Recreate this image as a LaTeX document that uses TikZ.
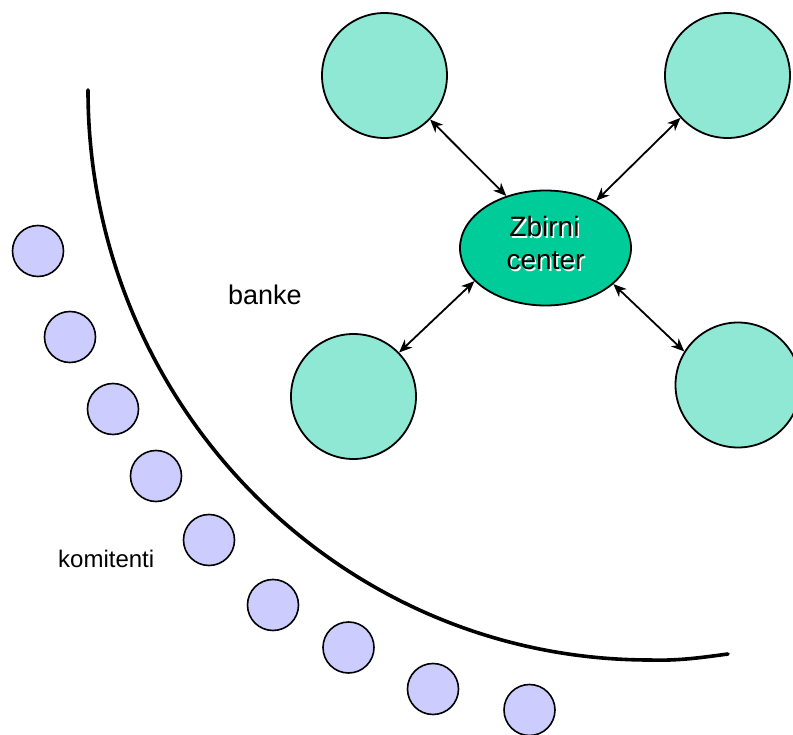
\documentclass[tikz,border=0pt]{standalone}
\usepackage{fontspec}
\setmainfont{Liberation Sans}
\usetikzlibrary{arrows.meta,shapes.geometric}
\definecolor{bankfill}{HTML}{8FE8D4}
\definecolor{hubfill}{HTML}{00CC99}
\definecolor{clientfill}{HTML}{CCCCFF}
% black text with a white drop shadow behind it
\newcommand\shadowtext[1]{\makebox[0pt][l]{\kern1.6pt\raisebox{-1.6pt}{\textcolor{white}{#1}}}#1}
\begin{document}
\begin{tikzpicture}[x=1pt,y=-1pt,
  bank/.style={circle,draw=black,line width=1.8pt,fill=bankfill,minimum size=125pt,inner sep=0pt},
  client/.style={circle,draw=black,line width=1.6pt,fill=clientfill,minimum size=51pt,inner sep=0pt},
  hub/.style={ellipse,draw=black,line width=1.8pt,fill=hubfill,minimum width=171pt,minimum height=115pt,inner sep=0pt},
  tip/.tip={Stealth[length=13pt,width=11pt,inset=4pt]},
  link/.style={tip-tip,line width=1.8pt},
  hubtext/.style={font=\fontsize{28}{33}\selectfont,anchor=base,inner sep=0pt},
  label/.style={anchor=base west,inner sep=0pt},
  boundary/.style={line width=3.6pt,line cap=round,line join=round}
]
\useasboundingbox (0,0) rectangle (793,735);
\clip (0,0) rectangle (793,735);

% boundary between banks and clients
\draw[boundary] (88,90) arc[start angle=180,end angle=90,x radius=562,y radius=570]
  .. controls (680,661) and (705,657) .. (728,654);

% banks around the clearing center
\node[bank] (tl) at (384.5,75.5) {};
\node[bank] (tr) at (727.5,75.5) {};
\node[bank] (bl) at (353.5,396.5) {};
\node[bank] (br) at (738,385) {};

% clearing center
\node[hub] (zc) at (545.5,248) {};
\node[hubtext] (zct1) at (544.5,237) {\shadowtext{Zbirni}};
\node[hubtext] (zct2) at (545.5,270) {\shadowtext{center}};

% links
\draw[link] (tl.-44) -- (zc.127);
\draw[link] (tr.-138) -- (zc.43);
\draw[link] (bl.44) -- (zc.-155);
\draw[link] (br.148) -- (zc.-28);

% clients
\node[client] (c1) at (38,251) {};
\node[client] (c2) at (70,337) {};
\node[client] (c3) at (113,409) {};
\node[client] (c4) at (156,476) {};
\node[client] (c5) at (209,540) {};
\node[client] (c6) at (273,605) {};
\node[client] (c7) at (348.5,647.5) {};
\node[client] (c8) at (433,689) {};
\node[client] (c9) at (529.5,710) {};

% labels
\node[label,font=\fontsize{27}{32}\selectfont] (banke) at (228,305) {banke};
\node[label,font=\fontsize{24}{28}\selectfont] (komitenti) at (58,567) {komitenti};
\end{tikzpicture}
\end{document}
